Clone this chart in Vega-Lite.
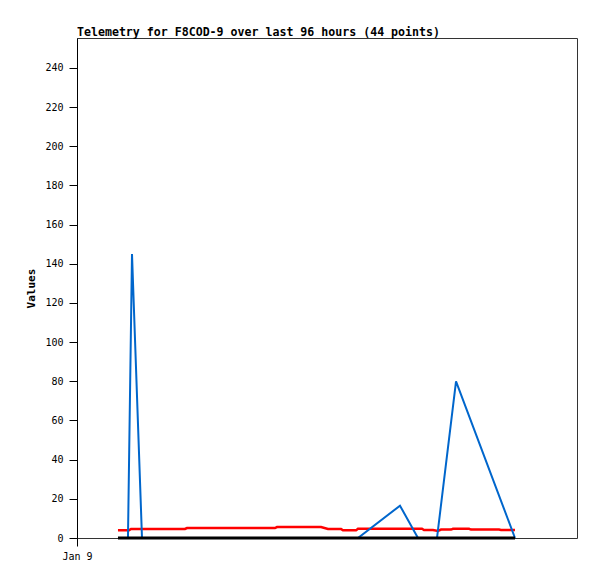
{
  "$schema": "https://vega.github.io/schema/vega-lite/v6.json",
  "autosize": "none",
  "padding": {"left": 77, "top": 38, "right": 20, "bottom": 41},
  "width": 500,
  "height": 500,
  "background": "white",
  "config": {
    "font": "DejaVu Sans Mono",
    "view": {"stroke": "#333333", "strokeWidth": 1},
    "axis": {"grid": false, "domainColor": "#000000", "tickColor": "#000000", "labelColor": "#000000", "labelFont": "DejaVu Sans Mono", "labelFontSize": 10, "titleFont": "DejaVu Sans Mono"}
  },
  "title": {"text": "Telemetry for F8COD-9 over last 96 hours (44 points)", "anchor": "start", "frame": "group", "font": "DejaVu Sans Mono", "fontSize": 11.6, "fontWeight": "bold", "color": "#000000", "offset": -1},
  "data": {"values": [
    {"t": "2024-01-09T09:50:00", "s": "red", "v": 3.9},
    {"t": "2024-01-09T12:29:00", "s": "red", "v": 3.9},
    {"t": "2024-01-09T12:58:00", "s": "red", "v": 4.6},
    {"t": "2024-01-10T01:55:00", "s": "red", "v": 4.6},
    {"t": "2024-01-10T02:24:00", "s": "red", "v": 5.1},
    {"t": "2024-01-10T23:31:00", "s": "red", "v": 5.1},
    {"t": "2024-01-11T00:00:00", "s": "red", "v": 5.6},
    {"t": "2024-01-11T10:34:00", "s": "red", "v": 5.6},
    {"t": "2024-01-11T12:14:00", "s": "red", "v": 4.6},
    {"t": "2024-01-11T15:22:00", "s": "red", "v": 4.6},
    {"t": "2024-01-11T15:50:00", "s": "red", "v": 3.9},
    {"t": "2024-01-11T18:58:00", "s": "red", "v": 3.9},
    {"t": "2024-01-11T19:26:00", "s": "red", "v": 4.7},
    {"t": "2024-01-12T10:48:00", "s": "red", "v": 4.7},
    {"t": "2024-01-12T11:17:00", "s": "red", "v": 4.1},
    {"t": "2024-01-12T13:26:00", "s": "red", "v": 4.1},
    {"t": "2024-01-12T14:38:00", "s": "red", "v": 3.6},
    {"t": "2024-01-12T15:22:00", "s": "red", "v": 4.3},
    {"t": "2024-01-12T17:46:00", "s": "red", "v": 4.3},
    {"t": "2024-01-12T18:14:00", "s": "red", "v": 4.7},
    {"t": "2024-01-12T22:05:00", "s": "red", "v": 4.7},
    {"t": "2024-01-12T22:34:00", "s": "red", "v": 4.3},
    {"t": "2024-01-13T05:17:00", "s": "red", "v": 4.3},
    {"t": "2024-01-13T05:46:00", "s": "red", "v": 4.1},
    {"t": "2024-01-13T09:07:00", "s": "red", "v": 4.1},
    {"t": "2024-01-09T12:14:00", "s": "blue", "v": 0},
    {"t": "2024-01-09T13:12:00", "s": "blue", "v": 145},
    {"t": "2024-01-09T15:36:00", "s": "blue", "v": 0},
    {"t": "2024-01-11T19:26:00", "s": "blue", "v": 0},
    {"t": "2024-01-12T05:31:00", "s": "blue", "v": 16.5},
    {"t": "2024-01-12T09:50:00", "s": "blue", "v": 0},
    {"t": "2024-01-12T14:24:00", "s": "blue", "v": 0},
    {"t": "2024-01-12T18:58:00", "s": "blue", "v": 80},
    {"t": "2024-01-13T09:07:00", "s": "blue", "v": 0},
    {"t": "2024-01-09T09:50:00", "s": "black", "v": 0},
    {"t": "2024-01-13T09:07:00", "s": "black", "v": 0}
  ]},
  "encoding": {
    "x": {"field": "t", "type": "temporal",
      "scale": {"domain": [{"year": 2024, "month": 1, "date": 9}, {"year": 2024, "month": 1, "date": 14}], "nice": false},
      "axis": {"title": null, "values": [{"year": 2024, "month": 1, "date": 9}], "format": "%b %-d", "labelAngle": 0, "tickSize": 8, "labelPadding": 5, "domain": false, "labelAlign": "center"}},
    "y": {"field": "v", "type": "quantitative",
      "scale": {"domain": [0, 255.3], "nice": false, "zero": true},
      "axis": {"title": "Values", "values": [0, 20, 40, 60, 80, 100, 120, 140, 160, 180, 200, 220, 240], "tickSize": 8, "labelPadding": 6, "titleFontSize": 11, "titleFontWeight": "bold", "titleColor": "#000000", "titlePadding": 8}}
  },
  "layer": [
    {"transform": [{"filter": "datum.s === 'red'"}], "mark": {"type": "line", "color": "#ff0000", "strokeWidth": 2.5}},
    {"transform": [{"filter": "datum.s === 'blue'"}], "mark": {"type": "line", "color": "#0066cc", "strokeWidth": 2}},
    {"transform": [{"filter": "datum.s === 'black'"}], "mark": {"type": "line", "color": "#000000", "strokeWidth": 3}}
  ]
}
